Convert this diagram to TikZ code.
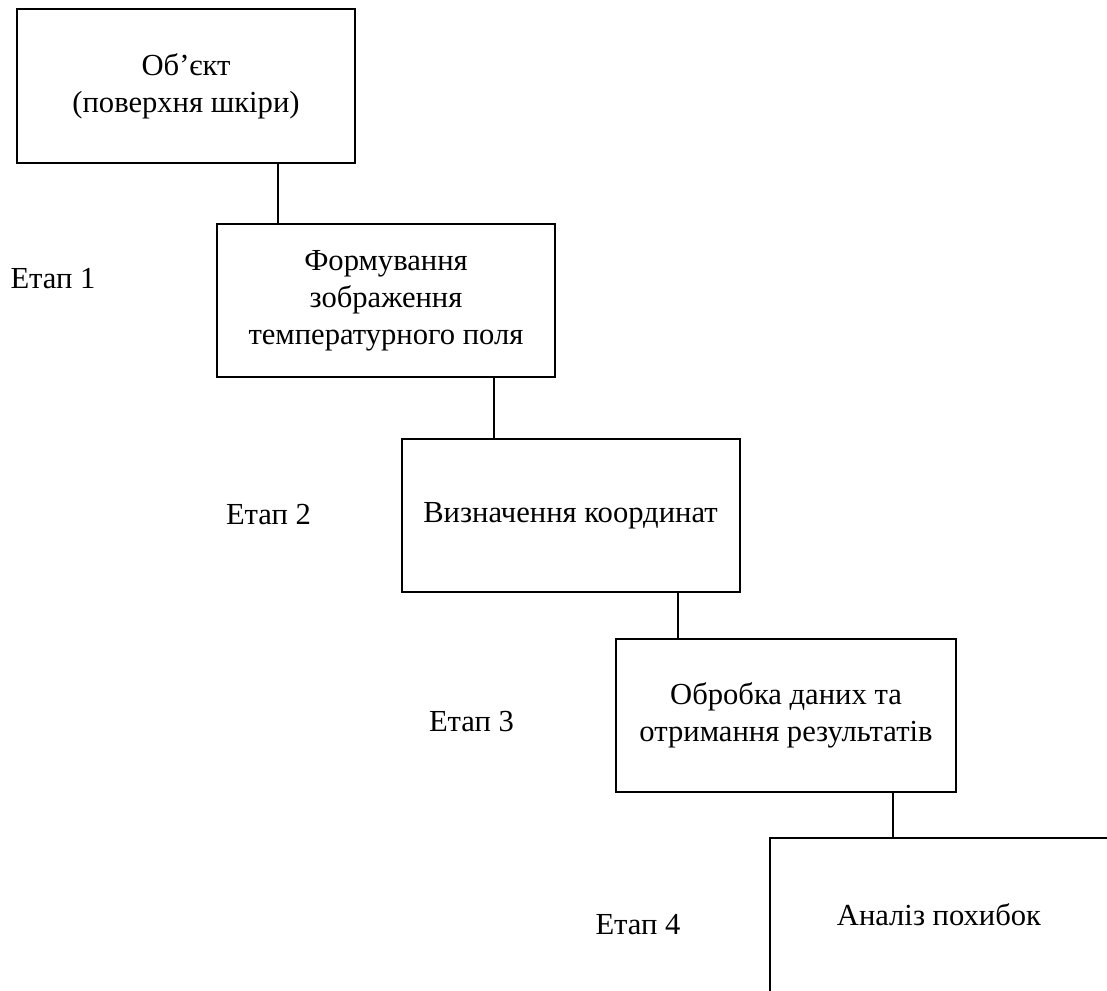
\documentclass[tikz,border=0pt]{standalone}
\usepackage{fontspec}
\setmainfont{Liberation Serif}
\usepackage{tikz}
\tikzset{
    blok/.style  = {draw, line width=1pt, minimum width=169pt, minimum height=76.5pt,
                    align=center, inner sep=2pt},
    etap/.style  = {inner sep=0pt},
    zv/.style    = {line width=1pt},
}

\begin{document}
\begin{tikzpicture}[x=0.5pt, y=-0.5pt, font=\fontsize{15.3pt}{18.4pt}\selectfont]
    \useasboundingbox (0,0) rectangle (1107,990);
    \clip (0,0) rectangle (1107,990);
    % etapy
    \node[blok, minimum height=77pt] (obj) at (186,86) {Об’єкт\\(поверхня шкіри)};
    \node[blok] (form) at (386,300.5) {Формування\\зображення\\температурного поля};
    \node[blok] (vyzn) at (570.5,515.5) {Визначення координат};
    \node[blok, minimum width=170pt] (obrob) at (786,715.5) {Обробка даних та\\отримання результатів};
    \node[blok, minimum height=77pt] (analiz) at (939,915) {Аналіз похибок};
    \node[etap] (e1) at (53,279) {Етап 1};
    \node[etap] (e2) at (268.5,514.5) {Етап 2};
    \node[etap] (e3) at (471.5,722) {Етап 3};
    \node[etap] (e4) at (638,925) {Етап 4};
    % zv'yazky
    \coordinate (k1) at ([xshift=-54pt]form.north);
    \coordinate (k2) at ([xshift=-38.25pt]vyzn.north);
    \coordinate (k3) at ([xshift=-54pt]obrob.north);
    \coordinate (k4) at ([xshift=-23pt]analiz.north);
    \draw[zv] (k1 |- obj.south) -- (k1);
    \draw[zv] (k2 |- form.south) -- (k2);
    \draw[zv] (k3 |- vyzn.south) -- (k3);
    \draw[zv] (k4 |- obrob.south) -- (k4);
\end{tikzpicture}
\end{document}
